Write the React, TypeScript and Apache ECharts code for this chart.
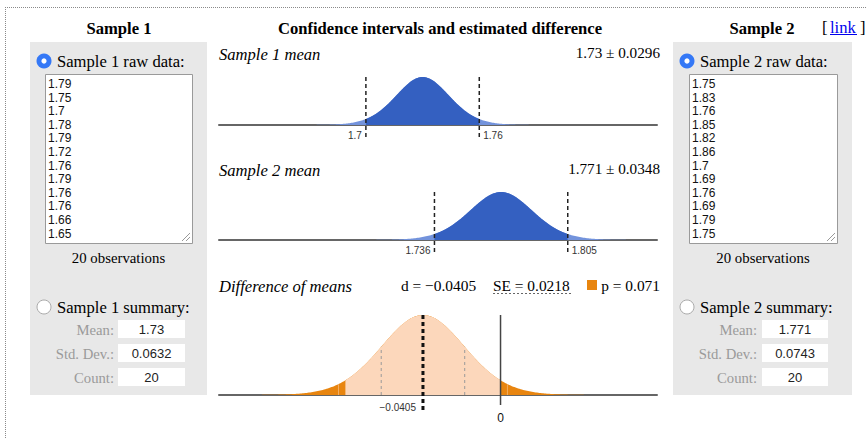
import React, { useEffect, useRef } from "react";
import * as echarts from "echarts";

// ---------- data ----------
const sample1Raw = [1.79, 1.75, 1.7, 1.78, 1.79, 1.72, 1.76, 1.79, 1.76, 1.76, 1.66, 1.65];
const sample2Raw = [1.75, 1.83, 1.76, 1.85, 1.82, 1.86, 1.7, 1.69, 1.76, 1.69, 1.79, 1.75];
const sampleNames = ["Sample 1", "Sample 2"];
const sampleMeans = [1.73, 1.771];
const sampleSDs = [0.0632, 0.0743];
const sampleCounts = [20, 20];
const ciHalfWidths = [0.0296, 0.0348];
const ciTickLabels = [["1.7", "1.76"], ["1.736", "1.805"]];
const diffMean = -0.0405;
const diffSE = 0.0218;
const diffCIHalf = 0.0441;
const pValue = 0.071;
const diffTickLabels = ["\u22120.0405", "0"];
const dfSample = 19;
const dfDiff = 38;
const sampleAxisRange = [1.6237, 1.8524];
const diffAxisRange = [-0.147, 0.0817];

// ---------- style ----------
const SERIF = "'Liberation Serif', 'Times New Roman', serif";
const SANS = "'Liberation Sans', Arial, sans-serif";
const BLUE_DARK = "#3460c1";
const BLUE_LIGHT = "#7393dc";
const ORANGE = "#e8850f";
const PEACH = "#fcd7bb";

function tCurve(mean: number, se: number, df: number, from: number, to: number, n: number) {
  const pts: number[][] = [];
  for (let k = 0; k <= n; k++) {
    const x = from + ((to - from) * k) / n;
    const z = (x - mean) / se;
    pts.push([x, Math.pow(1 + (z * z) / df, -(df + 1) / 2)]);
  }
  return pts;
}
function tHeight(z: number, df: number) {
  return Math.pow(1 + (z * z) / df, -(df + 1) / 2);
}

function txt(x: number, y: number, text: string, font: string, fill = "#000", align = "left", z = 10) {
  return {
    type: "text",
    x,
    y,
    z,
    silent: true,
    style: { text, font, fill, align, textAlign: align, verticalAlign: "middle", textVerticalAlign: "middle" },
  };
}

function sidePanel(i: number, p: any) {
  const raw = i === 0 ? sample1Raw : sample2Raw;
  const els: any[] = [];
  els.push({ type: "rect", z: 1, silent: true, shape: { x: p.panelX, y: 42, width: p.panelW, height: 353 }, style: { fill: "#e8e8e8" } });
  // selected radio
  els.push({ type: "circle", z: 5, silent: true, shape: { cx: p.radioX, cy: 61, r: 7.5 }, style: { fill: "#3478f6" } });
  els.push({ type: "circle", z: 6, silent: true, shape: { cx: p.radioX, cy: 61, r: 2.6 }, style: { fill: "#fff" } });
  els.push(txt(p.textX, 61, `${sampleNames[i]} raw data:`, `16.6px ${SERIF}`));
  // textarea
  els.push({ type: "rect", z: 3, silent: true, shape: { x: p.taX + 0.5, y: 74.5, width: p.taW, height: 169 }, style: { fill: "#fff", stroke: "#9a9a9a", lineWidth: 1 } });
  raw.forEach((v, k) => {
    els.push(txt(p.taX + 3, 84 + k * 13.6, String(v), `12px ${SANS}`, "#111"));
  });
  const gx = p.taX + p.taW - 2;
  els.push({ type: "line", z: 6, silent: true, shape: { x1: gx - 8, y1: 241, x2: gx, y2: 233 }, style: { stroke: "#999", lineWidth: 1 } });
  els.push({ type: "line", z: 6, silent: true, shape: { x1: gx - 4, y1: 241, x2: gx, y2: 237 }, style: { stroke: "#999", lineWidth: 1 } });
  els.push(txt(p.taX + p.taW / 2, 258, `${sampleCounts[i]} observations`, `14.8px ${SERIF}`, "#000", "center"));
  // summary
  els.push({ type: "circle", z: 5, silent: true, shape: { cx: p.radioX, cy: 307, r: 7 }, style: { fill: "#fff", stroke: "#aaa", lineWidth: 1 } });
  els.push(txt(p.textX, 307, `${sampleNames[i]} summary:`, `16.6px ${SERIF}`));
  const labels = ["Mean:", "Std. Dev.:", "Count:"];
  const vals = [String(sampleMeans[i]), String(sampleSDs[i]), String(sampleCounts[i])];
  const ys = [320, 344, 368];
  labels.forEach((l, k) => {
    els.push(txt(p.labelRight, ys[k] + 9.5, l, `14.7px ${SERIF}`, "#9a9a9a", "right"));
    els.push({ type: "rect", z: 3, silent: true, shape: { x: p.boxX, y: ys[k], width: p.boxW, height: 18 }, style: { fill: "#fff" } });
    els.push(txt(p.boxX + p.boxW / 2, ys[k] + 9.5, vals[k], `13px ${SANS}`, "#222", "center"));
  });
  return els;
}

function buildOption() {
  const series: any[] = [];
  for (let s = 0; s < 2; s++) {
    const se = sampleSDs[s] / Math.sqrt(sampleCounts[s]);
    const m = sampleMeans[s];
    const lo = m - ciHalfWidths[s];
    const hi = m + ciHalfWidths[s];
    series.push({
      type: "line", xAxisIndex: s, yAxisIndex: s, silent: true, showSymbol: false, z: 2,
      lineStyle: { width: 0 }, areaStyle: { color: BLUE_LIGHT, opacity: 1 },
      data: tCurve(m, se, dfSample, m - 4.5 * se, m + 4.5 * se, 240),
    });
    series.push({
      type: "line", xAxisIndex: s, yAxisIndex: s, silent: true, showSymbol: false, z: 3,
      lineStyle: { width: 0 }, areaStyle: { color: BLUE_DARK, opacity: 1 },
      data: tCurve(m, se, dfSample, lo, hi, 200),
    });
    series.push({
      type: "custom", xAxisIndex: s, yAxisIndex: s, silent: true, z: 6, clip: false,
      data: [[lo, 0], [hi, 0]],
      renderItem: (params: any, api: any) => {
        const i = params.dataIndex;
        const x = api.value(0);
        const top = api.coord([x, 1]);
        const base = api.coord([x, 0]);
        return {
          type: "group",
          children: [
            { type: "line", shape: { x1: top[0], y1: top[1], x2: top[0], y2: base[1] + 15 }, style: { stroke: "#222", lineWidth: 1.5, lineDash: [4, 3] } },
            {
              type: "text", x: top[0] + (i === 0 ? -4 : 4), y: base[1] + 10,
              style: { text: ciTickLabels[s][i], font: `10px ${SANS}`, fill: "#333", align: i === 0 ? "right" : "left", textAlign: i === 0 ? "right" : "left", verticalAlign: "middle", textVerticalAlign: "middle" },
            },
          ],
        };
      },
    });
  }
  // difference
  series.push({
    type: "line", xAxisIndex: 2, yAxisIndex: 2, silent: true, showSymbol: false, z: 2,
    lineStyle: { width: 0 }, areaStyle: { color: ORANGE, opacity: 1 },
    data: tCurve(diffMean, diffSE, dfDiff, diffMean - 4.5 * diffSE, diffMean + 4.5 * diffSE, 300),
  });
  series.push({
    type: "line", xAxisIndex: 2, yAxisIndex: 2, silent: true, showSymbol: false, z: 3,
    lineStyle: { width: 0 }, areaStyle: { color: PEACH, opacity: 1 },
    data: tCurve(diffMean, diffSE, dfDiff, 2 * diffMean, 0, 200),
  });
  const diffMarks = [
    [diffMean, 0], [0, 0],
    [diffMean - diffSE, 0], [diffMean + diffSE, 0],
    [diffMean - diffCIHalf, 0], [diffMean + diffCIHalf, 0],
  ];
  series.push({
    type: "custom", xAxisIndex: 2, yAxisIndex: 2, silent: true, z: 6, clip: false,
    data: diffMarks,
    renderItem: (params: any, api: any) => {
      const i = params.dataIndex;
      const x = api.value(0);
      const base = api.coord([x, 0]);
      if (i === 0) {
        const top = api.coord([x, 1]);
        return {
          type: "group",
          children: [
            { type: "line", shape: { x1: top[0], y1: top[1], x2: top[0], y2: base[1] + 16 }, style: { stroke: "#111", lineWidth: 3, lineDash: [4, 3] } },
            { type: "text", x: top[0] - 7, y: base[1] + 12, style: { text: diffTickLabels[0], font: `10px ${SANS}`, fill: "#333", align: "right", textAlign: "right", verticalAlign: "middle", textVerticalAlign: "middle" } },
          ],
        };
      }
      if (i === 1) {
        const top = api.coord([x, 1]);
        return {
          type: "group",
          children: [
            { type: "line", shape: { x1: top[0], y1: top[1], x2: top[0], y2: base[1] + 10 }, style: { stroke: "#444", lineWidth: 1.5 } },
            { type: "text", x: top[0], y: base[1] + 23, style: { text: diffTickLabels[1], font: `12px ${SANS}`, fill: "#111", align: "center", textAlign: "center", verticalAlign: "middle", textVerticalAlign: "middle" } },
          ],
        };
      }
      const z = (x - diffMean) / diffSE;
      const h = api.coord([x, tHeight(z, dfDiff)]);
      const isSE = i < 4;
      return {
        type: "line",
        shape: { x1: base[0], y1: base[1], x2: base[0], y2: h[1] },
        style: isSE ? { stroke: "#9a9a9a", lineWidth: 1, lineDash: [3, 3] } : { stroke: "#f3ad62", lineWidth: 1 },
      };
    },
  });

  const graphic: any[] = [];
  // dotted frame
  graphic.push({ type: "line", z: 0, silent: true, shape: { x1: 5, y1: 7.5, x2: 866, y2: 7.5 }, style: { stroke: "#8a8a8a", lineWidth: 1, lineDash: [1, 1] } });
  graphic.push({ type: "line", z: 0, silent: true, shape: { x1: 5.5, y1: 7, x2: 5.5, y2: 438 }, style: { stroke: "#8a8a8a", lineWidth: 1, lineDash: [1, 1] } });
  // titles
  graphic.push(txt(119, 28, sampleNames[0], `bold 16.6px ${SERIF}`, "#000", "center"));
  graphic.push(txt(440, 28, "Confidence intervals and estimated difference", `bold 16.6px ${SERIF}`, "#000", "center"));
  graphic.push(txt(762, 28, sampleNames[1], `bold 16.6px ${SERIF}`, "#000", "center"));
  graphic.push(txt(822, 27, "[", `16.6px ${SERIF}`));
  graphic.push(txt(830, 27, "link", `16.6px ${SERIF}`, "#0000ee"));
  graphic.push({ type: "line", z: 10, silent: true, shape: { x1: 830, y1: 34.5, x2: 857, y2: 34.5 }, style: { stroke: "#0000ee", lineWidth: 1 } });
  graphic.push(txt(860, 27, "]", `16.6px ${SERIF}`));
  // side panels
  graphic.push(...sidePanel(0, { panelX: 30, panelW: 177, radioX: 44, textX: 57, taX: 45, taW: 147, labelRight: 114, boxX: 118, boxW: 67 }));
  graphic.push(...sidePanel(1, { panelX: 673, panelW: 179, radioX: 687, textX: 700, taX: 689, taW: 148, labelRight: 757, boxX: 762, boxW: 66 }));
  // middle headings
  graphic.push(txt(219, 54, `${sampleNames[0]} mean`, `italic 16.6px ${SERIF}`));
  graphic.push(txt(660, 52, `${sampleMeans[0]} \u00b1 ${ciHalfWidths[0]}`, `15.2px ${SERIF}`, "#000", "right"));
  graphic.push(txt(219, 170, `${sampleNames[1]} mean`, `italic 16.6px ${SERIF}`));
  graphic.push(txt(660, 168, `${sampleMeans[1]} \u00b1 ${ciHalfWidths[1]}`, `15.2px ${SERIF}`, "#000", "right"));
  graphic.push(txt(219, 286, "Difference of means", `italic 16.6px ${SERIF}`));
  graphic.push(txt(401, 285, `d = \u2212${Math.abs(diffMean)}`, `15.4px ${SERIF}`));
  graphic.push(txt(493, 285, `SE = ${diffSE}`, `15.4px ${SERIF}`));
  graphic.push({ type: "line", z: 10, silent: true, shape: { x1: 493, y1: 293.5, x2: 571, y2: 293.5 }, style: { stroke: "#666", lineWidth: 1, lineDash: [2, 2] } });
  graphic.push({ type: "rect", z: 10, silent: true, shape: { x: 587, y: 280, width: 10, height: 10 }, style: { fill: ORANGE } });
  graphic.push(txt(660, 285, `p = ${pValue}`, `15.4px ${SERIF}`, "#000", "right"));

  const axisCommon = {
    type: "value",
    axisLine: { show: true, onZero: false, lineStyle: { color: "#666", width: 2 } },
    axisTick: { show: false },
    axisLabel: { show: false },
    splitLine: { show: false },
  };
  return {
    animation: false,
    backgroundColor: "#fff",
    grid: [
      { left: 219, top: 77, width: 438, height: 48 },
      { left: 219, top: 192, width: 438, height: 48 },
      { left: 219, top: 315, width: 438, height: 80 },
    ],
    xAxis: [
      { ...axisCommon, gridIndex: 0, min: sampleAxisRange[0], max: sampleAxisRange[1] },
      { ...axisCommon, gridIndex: 1, min: sampleAxisRange[0], max: sampleAxisRange[1] },
      { ...axisCommon, gridIndex: 2, min: diffAxisRange[0], max: diffAxisRange[1] },
    ],
    yAxis: [0, 1, 2].map((g) => ({ type: "value", gridIndex: g, min: 0, max: 1, show: false })),
    series,
    graphic,
  };
}

export default function App() {
  const ref = useRef<HTMLDivElement>(null);
  useEffect(() => {
    if (!ref.current) return;
    const chart = echarts.init(ref.current, undefined, { renderer: "svg" });
    chart.setOption(buildOption() as any);
    return () => chart.dispose();
  }, []);
  return <div ref={ref} style={{ position: "absolute", left: 0, top: 0, width: 866, height: 438 }} />;
}
